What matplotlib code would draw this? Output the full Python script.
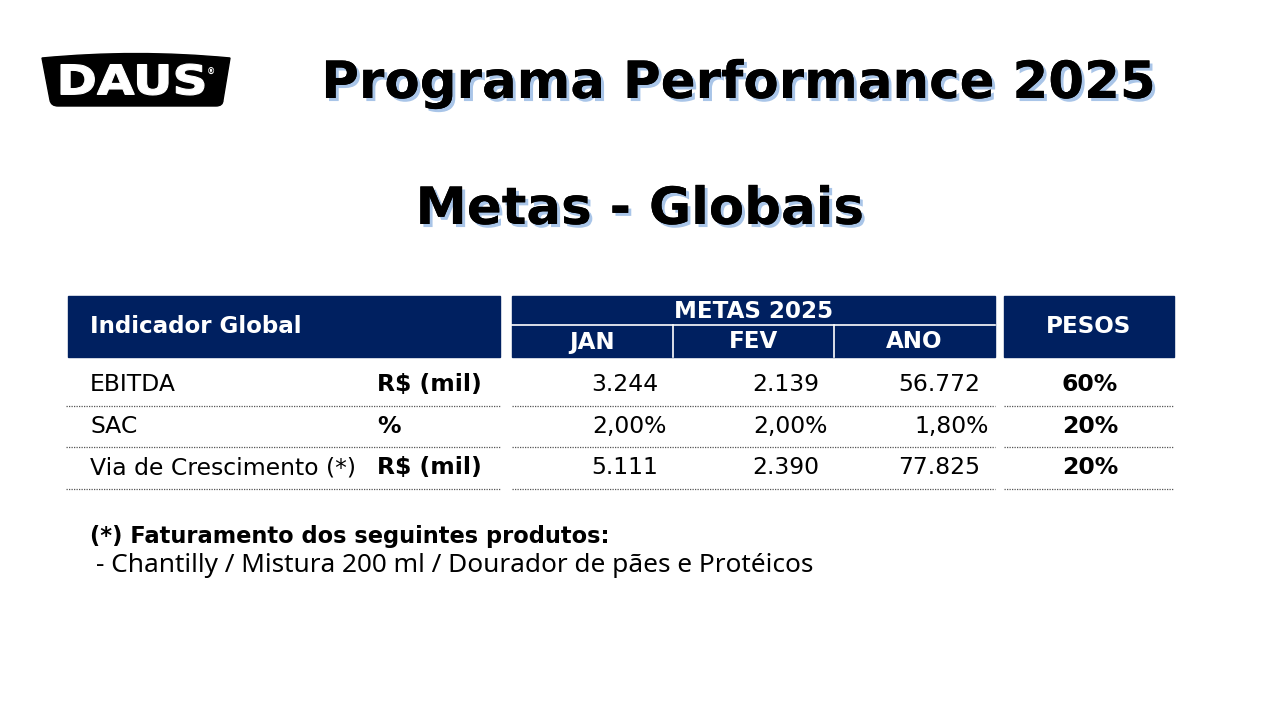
import matplotlib
matplotlib.use("Agg")
import matplotlib.pyplot as plt
import matplotlib.patheffects as pe
from matplotlib.path import Path
from matplotlib.patches import PathPatch, Rectangle
from matplotlib.textpath import TextPath
from matplotlib.font_manager import FontProperties
from matplotlib.transforms import Affine2D

# dados da tabela
titulo = "Programa Performance 2025"
subtitulo = "Metas - Globais"
indicadores = ["EBITDA", "SAC", "Via de Crescimento (*)"]
unidades = ["R$ (mil)", "%", "R$ (mil)"]
meses = ["JAN", "FEV", "ANO"]
metas_jan = ["3.244", "2,00%", "5.111"]
metas_fev = ["2.139", "2,00%", "2.390"]
metas_ano = ["56.772", "1,80%", "77.825"]
pesos = ["60%", "20%", "20%"]
nota_titulo = "(*) Faturamento dos seguintes produtos:"
nota_texto = "- Chantilly / Mistura 200 ml / Dourador de pães e Protéicos"

AZUL = "#002060"
FONTE_TAB = "DejaVu Sans"
FONTE_TIT = "DejaVu Sans"
FONTE_NOTA = "Noto Sans"

fig = plt.figure(figsize=(12.8, 7.2), dpi=100)
ax = fig.add_axes([0, 0, 1, 1])
ax.set_xlim(0, 1280)
ax.set_ylim(720, 0)
ax.axis("off")
renderer = fig.canvas.get_renderer()


def tamanho(texto, largura, **fp):
    # tamanho de fonte para o texto ocupar a largura (px) desejada
    prop = FontProperties(size=10, **fp)
    w, h, d = renderer.get_text_width_height_descent(texto, prop, ismath=False)
    return 10 * largura / w


# logo DAUS
verts = [(42, 58), (136, 49), (230, 58),
         (223, 100), (223, 106), (216, 106),
         (58, 106), (51, 106), (50, 100),
         (42, 58)]
codes = [Path.MOVETO, Path.CURVE3, Path.CURVE3,
         Path.LINETO, Path.CURVE3, Path.CURVE3,
         Path.LINETO, Path.CURVE3, Path.CURVE3,
         Path.CLOSEPOLY]
ax.add_patch(PathPatch(Path(verts, codes), facecolor="black", edgecolor="black", lw=1))
tp = TextPath((0, 0), "DAUS", size=1, prop=FontProperties(family="DejaVu Sans", weight="heavy"))
bb = tp.get_extents()
tr = (Affine2D().translate(-bb.x0, -bb.y0)
      .scale(143 / bb.width, -31 / bb.height)
      .translate(61, 95))
ax.add_patch(PathPatch(tr.transform_path(tp), facecolor="white", edgecolor="white", lw=0.8))
ax.text(211, 72, "®", color="white", fontsize=6, ha="center", va="center", fontweight="bold")

# títulos com sombra azul
sombra = [pe.withSimplePatchShadow(offset=(2.2, -2.2), shadow_rgbFace="#a9c5e8", alpha=1.0),
          pe.Normal()]
tit = dict(fontweight="bold", family=FONTE_TIT,
           ha="center", va="center", color="black", path_effects=sombra)
fs_tit = tamanho(titulo, 838, family=FONTE_TIT, weight="bold")
ax.text(739, 84, titulo, fontsize=fs_tit, **tit)
ax.text(640, 210, subtitulo, fontsize=fs_tit, **tit)

# cabeçalho da tabela
topo, meio, base = 296, 325, 357
col_ind = (68, 500)
col_metas = (512, 995)
col_pesos = (1004, 1174)
larg_mes = (col_metas[1] - col_metas[0]) / len(meses)

ax.add_patch(Rectangle((col_ind[0], topo), col_ind[1] - col_ind[0], base - topo, color=AZUL))
ax.add_patch(Rectangle((col_metas[0], topo), col_metas[1] - col_metas[0], base - topo, color=AZUL))
ax.add_patch(Rectangle((col_pesos[0], topo), col_pesos[1] - col_pesos[0], base - topo, color=AZUL))
ax.plot(col_metas, [meio, meio], color="white", lw=1.2)
for i in range(1, len(meses)):
    x = col_metas[0] + i * larg_mes
    ax.plot([x, x], [meio, base], color="white", lw=1.2)

fs_hdr = tamanho("Indicador Global", 212, family=FONTE_TAB, weight="bold")
hdr = dict(color="white", fontweight="bold", family=FONTE_TAB, fontsize=fs_hdr, va="center")
ax.text(90, (topo + base) / 2, "Indicador Global", ha="left", **hdr)
ax.text((col_metas[0] + col_metas[1]) / 2, (topo + meio) / 2 + 1, "METAS 2025", ha="center", **hdr)
for i, m in enumerate(meses):
    ax.text(col_metas[0] + (i + 0.5) * larg_mes, (meio + base) / 2 + 1, m, ha="center", **hdr)
ax.text((col_pesos[0] + col_pesos[1]) / 2, (topo + base) / 2, "PESOS", ha="center", **hdr)

# linhas de dados
altura = 41.5
y0 = 364
fs_cel = tamanho("EBITDA", 86, family=FONTE_TAB)
cel = dict(color="black", family=FONTE_TAB, fontsize=fs_cel, va="center", parse_math=False)
valores = [metas_jan, metas_fev, metas_ano]
for r in range(len(indicadores)):
    yc = y0 + (r + 0.5) * altura
    yl = y0 + (r + 1) * altura
    ax.text(90, yc, indicadores[r], ha="left", **cel)
    ax.text(377, yc, unidades[r], ha="left", fontweight="bold", **cel)
    for i, serie in enumerate(valores):
        xr = col_metas[0] + (i + 1) * larg_mes
        desloc = 6 if serie[r].endswith("%") else 15
        ax.text(xr - desloc, yc, serie[r], ha="right", **cel)
    ax.text((col_pesos[0] + col_pesos[1]) / 2 + 1, yc, pesos[r], ha="center", fontweight="bold", **cel)
    for x0, x1 in [(66, col_ind[1]), col_metas, col_pesos]:
        ax.plot([x0, x1], [yl, yl], color="#555555", lw=0.9, ls=(0, (1, 1)))

# nota de rodapé
fs_nt = tamanho(nota_titulo, 520, family=FONTE_TIT, weight="bold")
ax.text(90, 537, nota_titulo, fontsize=fs_nt, fontweight="bold", family=FONTE_TIT,
        ha="left", va="center")
fs_nx = tamanho(nota_texto, 718, family=FONTE_NOTA)
ax.text(96, 566, nota_texto, fontsize=fs_nx, family=FONTE_NOTA, ha="left", va="center")

fig.savefig("out.png", dpi=100, facecolor="white")
